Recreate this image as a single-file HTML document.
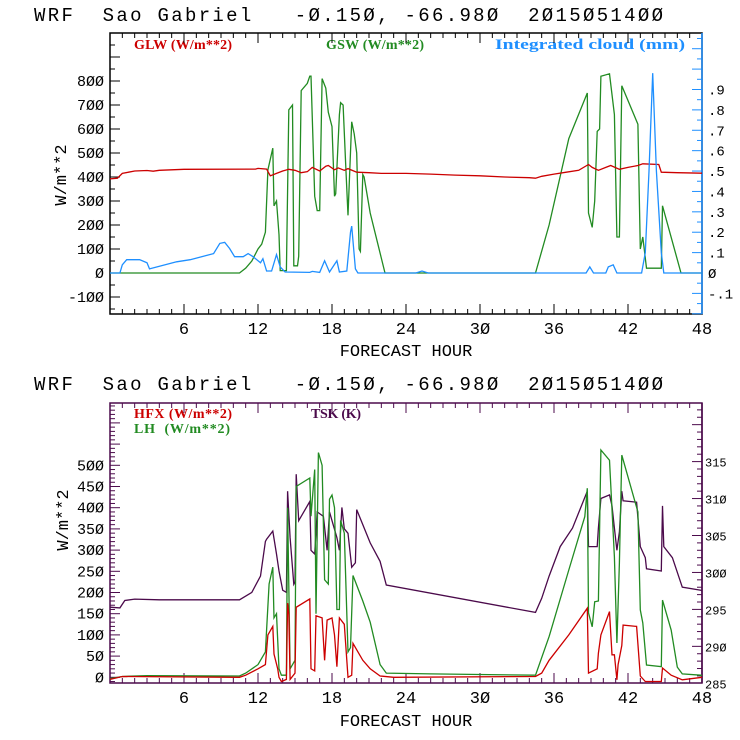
<!DOCTYPE html>
<html><head><meta charset="utf-8">
<style>
html,body{margin:0;padding:0;background:#fff;}
svg{display:block;}
.mono{font-family:"Liberation Mono","DejaVu Sans Mono",monospace;}
.serif{font-family:"Liberation Serif",serif;font-weight:bold;}
</style></head>
<body>
<svg id="chart" width="740" height="740" viewBox="0 0 740 740" xmlns="http://www.w3.org/2000/svg">
<rect width="740" height="740" fill="#fff"/>
<text x="34" y="21" class="mono" font-size="19" fill="#000" xml:space="preserve" textLength="629" lengthAdjust="spacing">WRF  Sao Gabriel   -Ø.15Ø, -66.98Ø  2Ø15Ø514ØØ</text>
<text x="34" y="390" class="mono" font-size="19" fill="#000" xml:space="preserve" textLength="629" lengthAdjust="spacing">WRF  Sao Gabriel   -Ø.15Ø, -66.98Ø  2Ø15Ø514ØØ</text>
<text x="134" y="49" class="serif" font-size="14" fill="#cc0000" textLength="98">GLW (W/m**2)</text>
<text x="326" y="49" class="serif" font-size="14" fill="#228b22" textLength="98">GSW (W/m**2)</text>
<text x="495" y="49" class="serif" font-size="15" fill="#1e8fff" textLength="190" lengthAdjust="spacingAndGlyphs">Integrated cloud (mm)</text>
<text x="134" y="418" class="serif" font-size="14" fill="#cc0000" textLength="98">HFX (W/m**2)</text>
<text x="134" y="433" class="serif" font-size="14" fill="#228b22" textLength="96" xml:space="preserve">LH  (W/m**2)</text>
<text x="311" y="418" class="serif" font-size="14" fill="#4b0a4b" textLength="50">TSK (K)</text>
<text class="mono" font-size="17" text-anchor="middle" transform="translate(66,175) rotate(-90)">W/m**2</text>
<text class="mono" font-size="17" text-anchor="middle" transform="translate(68,520) rotate(-90)">W/m**2</text>
<text x="406" y="356" class="mono" font-size="17" text-anchor="middle">FORECAST HOUR</text>
<text x="406" y="726" class="mono" font-size="17" text-anchor="middle">FORECAST HOUR</text>
<g id="g"></g>
</svg>
<script>
// ---- shared x axis ----
const xTicks = [6,12,18,24,30,36,42,48];
// ---- top panel data ----
const leftTicksTop = [-100,0,100,200,300,400,500,600,700,800];
const rightTicksTop = [-0.1,0,0.1,0.2,0.3,0.4,0.5,0.6,0.7,0.8,0.9];
const rightLabelsTop = ["-.1","Ø",".1",".2",".3",".4",".5",".6",".7",".8",".9"];
const glwHours = [0,0.6,1,1.5,2,3,3.5,4,6,11.8,12,12.7,13,13.5,14,14.5,15,15.5,16,16.4,17,17.5,17.7,18.2,18.5,19,19.3,20,21,22,24,26,28,30,32,34,34.5,35,36,37,38,38.8,39.1,39.6,40.2,40.6,41.3,42,42.8,43.2,44.5,44.7,46,48];
const glwValues = [392,395,415,420,425,427,424,428,432,433,436,433,405,415,425,432,428,418,422,440,425,445,448,430,438,428,435,420,418,415,415,412,408,405,400,397,395,403,412,420,428,452,440,428,440,448,432,440,448,455,452,420,418,416];
const gswHours = [0,10.5,11,11.5,12,12.3,12.6,12.8,13.2,13.3,13.5,13.7,13.8,14.3,14.5,14.8,14.9,15.2,15.3,15.5,16,16.2,16.3,16.6,16.8,17.0,17.2,17.5,17.7,18.0,18.2,18.3,18.6,18.7,18.9,19.1,19.3,19.6,19.8,20.0,20.2,20.3,20.5,20.6,21.1,22.3,34.5,35.6,37.2,38.7,38.8,39.1,39.3,39.5,39.7,39.8,40.5,40.9,41.1,41.3,41.5,42.8,43.0,43.2,43.5,44.7,44.8,46.3,48];
const gswValues = [0,0,20,50,100,120,170,430,520,280,300,160,10,10,680,700,30,30,70,760,790,820,820,320,260,260,810,770,670,610,320,330,660,710,700,460,240,630,580,500,100,90,410,400,250,0,0,200,560,750,250,190,300,590,600,820,830,660,150,150,780,620,100,150,20,20,280,0,0];
const cloudHours = [0,0.8,1.0,1.35,2.4,3.0,3.2,5.4,6.5,8.4,8.9,9.3,9.7,10.1,10.8,11.2,11.6,12.2,12.4,12.7,13.1,13.5,13.8,14.2,16.2,16.4,17.0,17.4,17.8,18.4,18.6,19.2,19.5,19.6,19.9,20.1,24.8,25.3,25.8,38.6,38.9,39.2,40.2,40.4,40.8,41.1,43.1,43.4,43.7,44.0,44.3,44.7,44.9,48];
const cloudValues = [0,0,0.04,0.065,0.065,0.05,0.02,0.055,0.065,0.095,0.145,0.15,0.12,0.08,0.08,0.095,0.08,0.05,0.07,0.01,0.01,0.09,0.03,0.005,0.003,0.008,0.003,0.06,0.005,0.06,0.005,0.01,0.2,0.23,0.02,0,0,0.01,0,0,0.03,0,0,0.03,0.04,0,0,0.1,0.5,0.98,0.5,0.1,0,0];
// ---- bottom panel data ----
const leftTicksBot = [0,50,100,150,200,250,300,350,400,450,500];
const leftLabelsBot = ["Ø","5Ø","1ØØ","15Ø","2ØØ","25Ø","3ØØ","35Ø","4ØØ","45Ø","5ØØ"];
const rightTicksBot = [285,290,295,300,305,310,315];
const tskHours = [0,0.8,1.2,2,4,10.5,11.5,12.2,12.6,12.7,13.2,13.5,13.7,14.0,14.3,14.4,14.6,14.9,15.0,15.1,15.3,16.2,16.3,16.6,16.8,17.3,17.6,17.8,18.4,18.6,18.8,19.0,19.3,19.6,19.9,20.0,21.1,21.9,22.4,34.5,35.0,35.6,36.5,37.5,38.7,38.8,39.5,39.6,39.8,40.5,40.7,40.9,41.1,41.3,41.5,41.6,42.7,43.0,43.4,43.5,44.7,44.8,44.9,45.6,46.4,47.9,48];
const tskValues = [295.3,295.2,296.2,296.4,296.3,296.3,297.3,299.5,304.2,304.5,305.6,302.5,300.2,297.6,297.3,311,304.7,298.4,298.7,313.3,307,309.6,303,302.5,308.2,307.6,303,308.2,304.7,303,308.8,305.9,305.3,300.7,301.3,308.5,304,301.5,298.3,294.6,296.5,299.5,303.5,306,311,303.5,303.5,306,310,310.5,309,306,303,305.5,311,309.7,309.5,303.5,302,300.5,300.2,309,303.5,302,298,297.6,297.5];
const lhHours = [0,1,3,10.5,11,12,12.6,12.9,13.2,13.3,13.5,13.7,13.9,14.3,14.4,14.6,15.0,15.1,16.2,16.3,16.6,16.7,16.9,17.2,17.4,17.7,17.8,18.0,18.2,18.4,18.6,18.7,19.0,19.3,19.5,19.7,20.5,21.1,21.9,22.4,26,34.5,35.6,37.2,38.5,38.7,38.8,39.1,39.3,39.6,39.8,40.5,40.9,41.1,41.3,41.5,42.8,43.0,43.2,43.5,44.7,44.8,45.5,46.0,46.4,47.9,48];
const lhValues = [-3,2,4,3,10,30,60,220,260,140,150,20,5,5,400,20,40,450,470,380,490,150,530,500,230,220,420,430,400,160,160,370,340,60,70,240,180,130,30,10,8,5,96,253,379,446,152,119,178,180,536,512,284,81,270,524,390,159,128,29,25,182,111,24,8,5,4];
const hfxHours = [0,1,10.5,11,12,12.6,12.8,13.2,13.3,13.6,13.7,13.9,14.3,14.4,14.5,14.6,15.0,15.1,16.2,16.3,16.6,16.7,17.2,17.4,17.6,18.0,18.2,18.4,18.6,19.0,19.3,19.6,19.7,20.5,21.1,21.9,23,34.5,35.0,35.6,37.2,38.7,38.8,39.5,39.6,39.8,40.5,40.7,40.9,41.1,41.2,41.5,41.6,42.7,43.0,43.4,44.7,44.8,45.5,46.4,48];
const hfxValues = [-5,2,0,5,20,30,100,120,55,20,0,-10,-5,175,150,-5,10,165,185,20,15,145,140,40,135,140,100,25,140,125,0,5,80,40,20,3,0,2,10,40,100,163,10,20,57,100,155,53,53,-6,30,75,123,120,3,-10,-10,22,5,-6,0];

const g = document.getElementById('g');
const NS = 'http://www.w3.org/2000/svg';
function mk(tag, attrs){ const e=document.createElementNS(NS,tag); for(const k in attrs) e.setAttribute(k,attrs[k]); g.appendChild(e); return e; }
const X0=110, X1=702;
const xs = h => X0 + (X1-X0)*h/48;

function panel(top, bot, yL, yR, frameColor, rightColor, name){
  const r = mk('rect',{x:X0,y:top,width:X1-X0,height:bot-top,fill:'none',stroke:frameColor,'stroke-width':1.5});
  
  
  const rl = mk('line',{x1:X1,y1:top,x2:X1,y2:bot,stroke:rightColor,'stroke-width':1.5});
  
  
  for(let h=1;h<48;h++){
    const len = (h%6===0)?10:5, x=xs(h);
    const t1 = mk('line',{x1:x,y1:bot,x2:x,y2:bot-len,stroke:frameColor});
    
    
    const t2 = mk('line',{x1:x,y1:top,x2:x,y2:top+len,stroke:frameColor});
    
    
  }
  xTicks.forEach(h=>{
    const t = mk('text',{x:xs(h),y:bot+20,'text-anchor':'middle','font-size':17,class:'mono',fill:'#000'});
    t.textContent = String(h).replace(/0/g,'Ø');
    
    
  });
}
function line(hours, vals, ys, color, name){
  let d='';
  hours.forEach((h,i)=>{ d += (i?'L':'M') + xs(h).toFixed(1)+','+ys(vals[i]).toFixed(1); });
  const p = mk('path',{d:d,fill:'none',stroke:color,'stroke-width':1.3});
  
  
}

// top panel
const T0=33, T1=314;
const yTop = v => 273 - 0.24*v;
const yTopR = v => 273 - 203.9*v;
panel(T0,T1,yTop,yTopR,'#000','#1e8fff','top');
for(let v=-150; v<=950; v+=50){
  const y=yTop(v); if(y<T0||y>T1) continue;
  const t = mk('line',{x1:X0,y1:y,x2:X0+(v%100===0?10:5),y2:y,stroke:'#000'});
  
  
}
leftTicksTop.forEach(v=>{
  const t = mk('text',{x:104,y:yTop(v)+5,'text-anchor':'end','font-size':15,class:'mono'});
  t.textContent = String(v).replace(/0/g,'Ø');
  
  
});
for(let k=-4;k<=23;k++){
  const v=k*0.05, y=yTopR(v); if(y<T0||y>T1) continue;
  const t = mk('line',{x1:X1,y1:y,x2:X1-(k%2===0?10:5),y2:y,stroke:'#1e8fff'});
  
  
}
rightTicksTop.forEach((v,i)=>{
  const t = mk('text',{x:708,y:yTopR(v)+5,'font-size':14,class:'mono'});
  t.textContent = rightLabelsTop[i];
  
  
});
line(gswHours,gswValues,yTop,'#228b22','gsw-line');
line(glwHours,glwValues,yTop,'#cc0000','glw-line');
line(cloudHours,cloudValues,yTopR,'#1e8fff','cloud-line');

// bottom panel
const B0=403, B1=683;
const yBot = v => 677.3 - 0.424*v;
const yBotR = v => 683.3 - 7.39*(v-285);
panel(B0,B1,yBot,yBotR,'#4b0a4b','#4b0a4b','bottom');
for(let v=-10; v<=650; v+=10){
  const y=yBot(v); if(y<B0||y>B1) continue;
  const t = mk('line',{x1:X0,y1:y,x2:X0+(v%50===0?10:5),y2:y,stroke:'#4b0a4b'});
  
  
}
leftTicksBot.forEach((v,i)=>{
  const t = mk('text',{x:104,y:yBot(v)+5,'text-anchor':'end','font-size':15,class:'mono'});
  t.textContent = leftLabelsBot[i];
  
  
});
for(let k=285;k<=322;k++){
  const y=yBotR(k); if(y<B0||y>B1) continue;
  const t = mk('line',{x1:X1,y1:y,x2:X1-(k%5===0?10:5),y2:y,stroke:'#4b0a4b'});
  
  
}
rightTicksBot.forEach(v=>{
  const t = mk('text',{x:705,y:yBotR(v)+5,'font-size':12,class:'mono'});
  t.textContent = String(v).replace(/0/g,'Ø');
  
  
});
line(tskHours,tskValues,yBotR,'#4b0a4b','tsk-line');
line(lhHours,lhValues,yBot,'#228b22','lh-line');
line(hfxHours,hfxValues,yBot,'#cc0000','hfx-line');
</script>
</body></html>
